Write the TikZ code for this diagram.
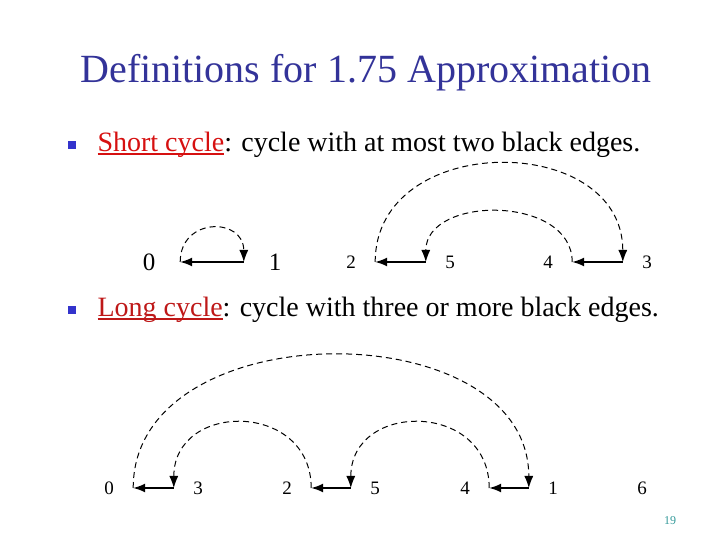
\documentclass[tikz,border=0pt]{standalone}
\usepackage{fontspec}
\setmainfont{Liberation Serif}
\usetikzlibrary{arrows.meta}
\definecolor{titleblue}{RGB}{51,51,153}
\definecolor{bulletblue}{RGB}{51,51,204}
\definecolor{shortred}{RGB}{214,16,16}
\definecolor{longred}{RGB}{190,24,24}
\definecolor{pageteal}{RGB}{51,153,153}
% red term with a thick underline
\newcommand{\term}[2]{\textcolor{#1}{\setbox0=\hbox{#2}\rlap{\rule[-3pt]{\wd0}{1.6pt}}\box0}}

\begin{document}
\begin{tikzpicture}[x=1pt,y=1pt,>={Latex[length=12pt,width=9pt]},
  vtx/.style={font=\fontsize{19}{22}\selectfont,minimum width=48pt,inner sep=0pt},
  bigvtx/.style={font=\fontsize{25}{28}\selectfont,minimum width=62pt,inner sep=0pt},
  bedge/.style={->,line width=1.5pt},
  gedge/.style={->,dash pattern=on 6pt off 4pt,line width=1pt},
  bullet/.style={fill=bulletblue,minimum size=8pt,inner sep=0pt},
  item/.style={anchor=base west,font=\fontsize{28}{34}\selectfont}]
\useasboundingbox (0,0) rectangle (720,540);

% title
\node[anchor=base,text=titleblue,font=\fontsize{40}{48}\selectfont] (title) at (366,457)
  {Definitions for 1.75 Approximation};

% short cycle
\node[bullet] (dot1) at (72,395) {};
\node[item] (short) at (94,388) {\term{shortred}{Short cycle}: cycle with at most two black edges.};

\foreach \lab/\x in {0/149,1/275}
  \node[bigvtx] (t\lab) at (\x,278) {\lab};
\foreach \lab/\x in {2/351,5/450,4/548,3/647}
  \node[vtx] (t\lab) at (\x,278) {\lab};

\draw[bedge] (t1.west) -- (t0.east);
\draw[gedge] (t0.east) .. controls +(0,45) and +(0,45) .. (t1.west);

\draw[bedge] (t5.west) -- (t2.east);
\draw[bedge] (t3.west) -- (t4.east);
\draw[gedge] (t2.east) .. controls +(0,131) and +(0,131) .. (t3.west);
\draw[gedge] (t4.east) .. controls +(0,67) and +(0,67) .. (t5.west);

% long cycle
\node[bullet] (dot2) at (72,230) {};
\node[item] (long) at (94,223) {\term{longred}{Long cycle}: cycle with three or more black edges.};

\foreach \lab/\x in {0/109,3/198,2/287,5/375,4/465,1/553,6/642}
  \node[vtx] (b\lab) at (\x,52) {\lab};

\draw[bedge] (b3.west) -- (b0.east);
\draw[bedge] (b5.west) -- (b2.east);
\draw[bedge] (b1.west) -- (b4.east);
\draw[gedge] (b0.east) .. controls +(0,177) and +(0,177) .. (b1.west);
\draw[gedge] (b2.east) .. controls +(0,87) and +(0,87) .. (b3.west);
\draw[gedge] (b4.east) .. controls +(0,87) and +(0,87) .. (b5.west);

% page number
\node[text=pageteal,font=\fontsize{12}{14}\selectfont] (page) at (670,19) {19};
\end{tikzpicture}
\end{document}
